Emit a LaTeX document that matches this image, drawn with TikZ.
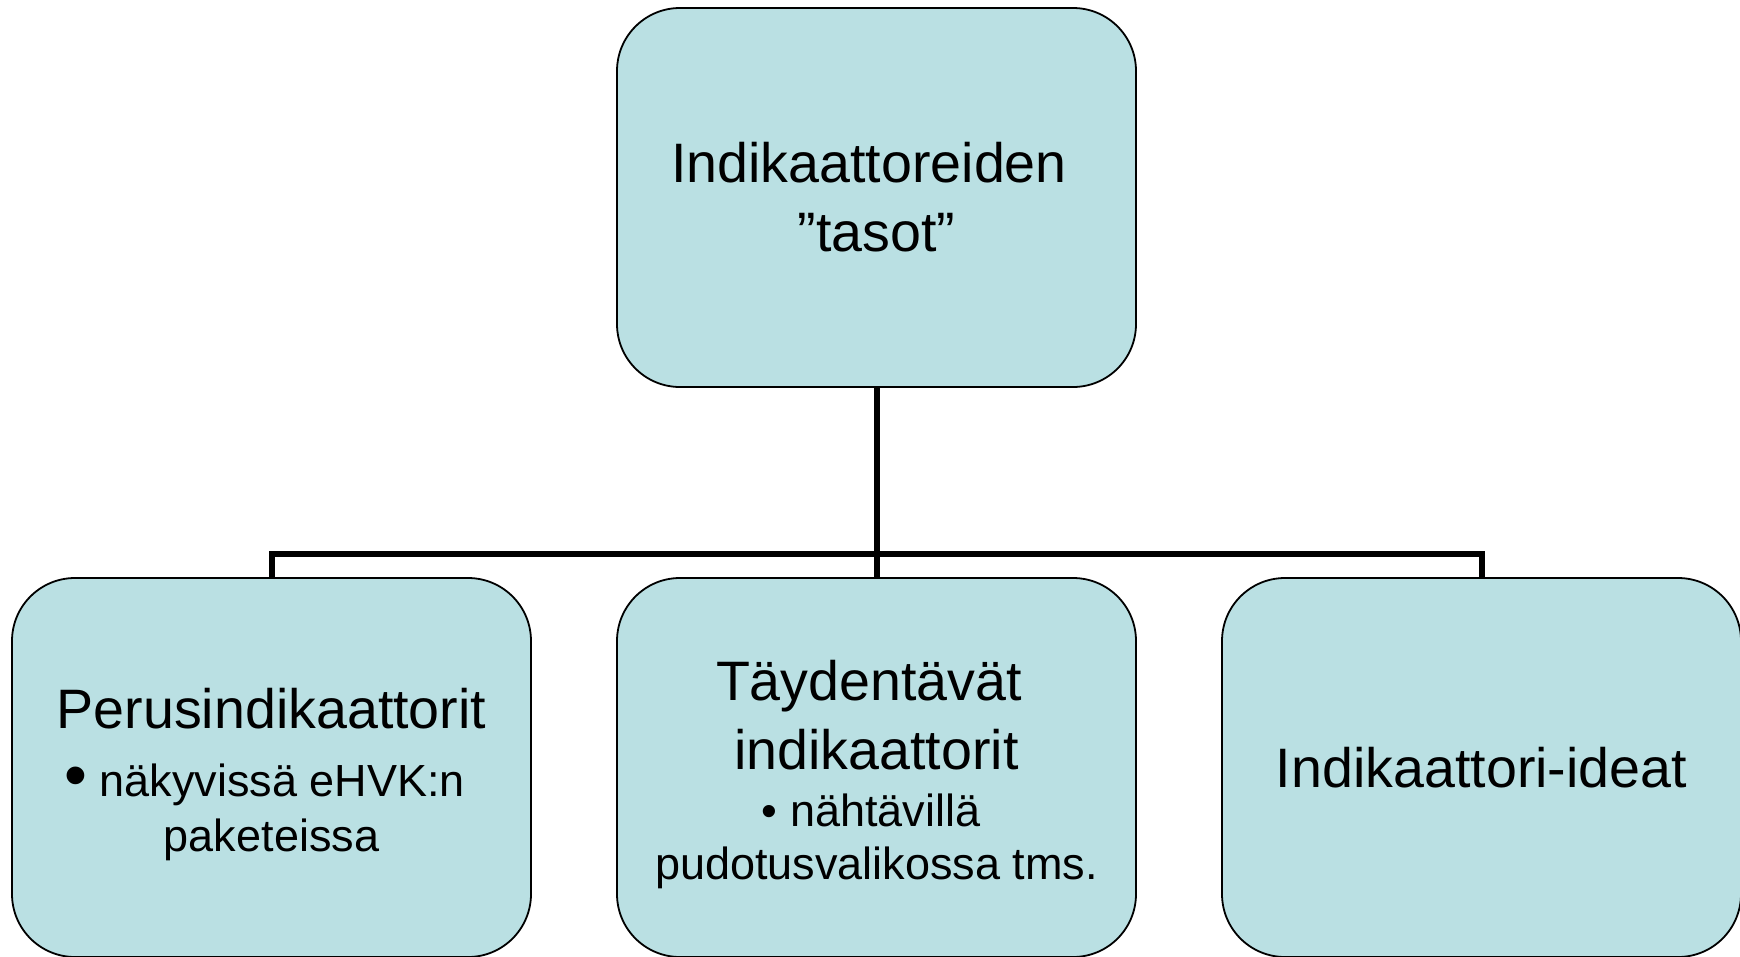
\documentclass[tikz,border=0pt]{standalone}
\usepackage{fontspec}
\setmainfont{Liberation Sans}
\definecolor{boxfill}{RGB}{186,224,227}
\tikzset{
  orgbox/.style={draw=black, line width=1.8pt, fill=boxfill, rounded corners=63pt,
    minimum width=519pt, minimum height=379pt, inner sep=0pt},
  boxtext/.style={inner sep=0pt, align=center, font=\fontsize{55.6}{69}\selectfont},
  conn/.style={draw=black, line width=6pt}
}
\newcommand{\bul}[1]{{\fontsize{45}{55.5}\selectfont #1}}
\newcommand{\bigbul}{\raisebox{-1pt}{\scalebox{1.45}{•}}}
\begin{document}
\begin{tikzpicture}[x=1pt,y=-1pt]
\useasboundingbox (0,0) rectangle (1740,956);
\node[orgbox] (top) at (876.5,197.5) {};
\node[orgbox] (left) at (271.5,767.5) {};
\node[orgbox] (mid) at (876.5,767.5) {};
\node[orgbox] (right) at (1481.5,767.5) {};
\node[boxtext] (toptext) at (top.center) {\mbox{Indikaattoreiden\kern15pt}\\”tasot”};
\node[boxtext, yshift=-7pt] (lefttext) at (left.center) {Perusindikaattorit\\[-1pt]\mbox{\bul{\bigbul\ näkyvissä eHVK:n}\kern14pt}\\[-14pt]\bul{paketeissa}};
\node[boxtext, yshift=-7pt] (midtext) at (mid.center) {\mbox{Täydentävät\kern15pt}\\indikaattorit\\[-12pt]\mbox{\bul{• nähtävillä}\kern11pt}\\[-16pt]\bul{pudotusvalikossa tms.}};
\node[boxtext] (righttext) at (right.center) {Indikaattori-ideat};
\coordinate (jl) at (271.5,554);
\draw[conn] (top.south) -- (mid.north);
\draw[conn] (left.north) -- (jl) -| (right.north);
\end{tikzpicture}
\end{document}
